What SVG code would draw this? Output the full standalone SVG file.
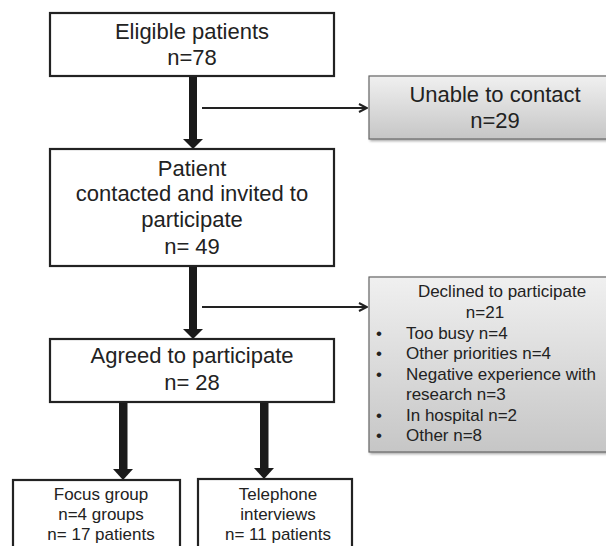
<svg xmlns="http://www.w3.org/2000/svg" width="606" height="546" viewBox="0 0 606 546">
<defs>
<linearGradient id="grey" x1="0" y1="0" x2="0" y2="1">
<stop offset="0" stop-color="#f0f0f0"/>
<stop offset="1" stop-color="#c6c6c6"/>
</linearGradient>
<filter id="sh" x="-5%" y="-5%" width="115%" height="120%">
<feDropShadow dx="1.5" dy="1.5" stdDeviation="1" flood-color="#000" flood-opacity="0.35"/>
</filter>
<marker id="open" viewBox="0 0 10 10" refX="9" refY="5" markerWidth="10" markerHeight="10" markerUnits="userSpaceOnUse" orient="auto">
<path d="M1,1 L9,5 L1,9" fill="none" stroke="#222" stroke-width="2"/>
</marker>
</defs>
<style>
.main{fill:#fff;stroke:#222;stroke-width:2.2}
.grey{fill:url(#grey);stroke:#666;stroke-width:1.2}
.t{font-family:"Liberation Sans",Arial,sans-serif;fill:#222;text-anchor:middle}
.big{font-size:22px}
.sm{font-size:17px}
.l{text-anchor:start}
.shaft{fill:#1a1a1a}
.thin{stroke:#222;stroke-width:2;fill:none}
</style>
<g id="connectors">
<rect class="shaft" x="189" y="76" width="8" height="64"/>
<polygon class="shaft" points="183,139 203,139 193,149"/>
<rect class="shaft" x="189" y="266" width="8" height="64"/>
<polygon class="shaft" points="183,329 203,329 193,339"/>
<rect class="shaft" x="119" y="402" width="8.5" height="68"/>
<polygon class="shaft" points="113,469 133,469 123,480"/>
<rect class="shaft" x="260" y="402" width="8.5" height="67"/>
<polygon class="shaft" points="254,468 274,468 264,479"/>
<line class="thin" x1="202" y1="108" x2="367" y2="108" marker-end="url(#open)"/>
<line class="thin" x1="202" y1="307" x2="367" y2="307" marker-end="url(#open)"/>
</g>
<g id="eligible">
<rect class="main" x="50" y="13" width="284" height="63"/>
<text class="t big" x="192" y="39">Eligible patients</text>
<text class="t big" x="192" y="65">n=78</text>
</g>
<g id="unable">
<rect class="grey" x="369" y="76" width="260" height="63" filter="url(#sh)"/>
<text class="t big" x="495" y="102">Unable to contact</text>
<text class="t big" x="495" y="128">n=29</text>
</g>
<g id="contacted">
<rect class="main" x="50" y="149" width="284" height="117"/>
<text class="t big" x="192" y="176">Patient</text>
<text class="t big" x="192" y="201">contacted and invited to</text>
<text class="t big" x="192" y="227">participate</text>
<text class="t big" x="192" y="254">n= 49</text>
</g>
<g id="declined">
<rect class="grey" x="369" y="277" width="260" height="175" filter="url(#sh)"/>
<text class="t sm" x="502" y="297">Declined to participate</text>
<text class="t sm" x="485" y="318">n=21</text>
<g class="t sm">
<text class="t sm l" x="376" y="339">•</text><text class="t sm l" x="406" y="339">Too busy n=4</text>
<text class="t sm l" x="376" y="359">•</text><text class="t sm l" x="406" y="359">Other priorities n=4</text>
<text class="t sm l" x="376" y="380">•</text><text class="t sm l" x="406" y="380">Negative experience with</text>
<text class="t sm l" x="406" y="400">research n=3</text>
<text class="t sm l" x="376" y="421">•</text><text class="t sm l" x="406" y="421">In hospital n=2</text>
<text class="t sm l" x="376" y="441">•</text><text class="t sm l" x="406" y="441">Other n=8</text>
</g>
</g>
<g id="agreed">
<rect class="main" x="50" y="339" width="284" height="63"/>
<text class="t big" x="192" y="363">Agreed to participate</text>
<text class="t big" x="192" y="390">n= 28</text>
</g>
<g id="focus">
<rect class="main" x="13" y="480" width="167" height="80"/>
<text class="t sm" x="101" y="500">Focus group</text>
<text class="t sm" x="101" y="520">n=4 groups</text>
<text class="t sm" x="101" y="540">n= 17 patients</text>
</g>
<g id="telephone">
<rect class="main" x="198" y="479" width="154" height="80"/>
<text class="t sm" x="278" y="500">Telephone</text>
<text class="t sm" x="278" y="520">interviews</text>
<text class="t sm" x="278" y="540">n= 11 patients</text>
</g>
</svg>
